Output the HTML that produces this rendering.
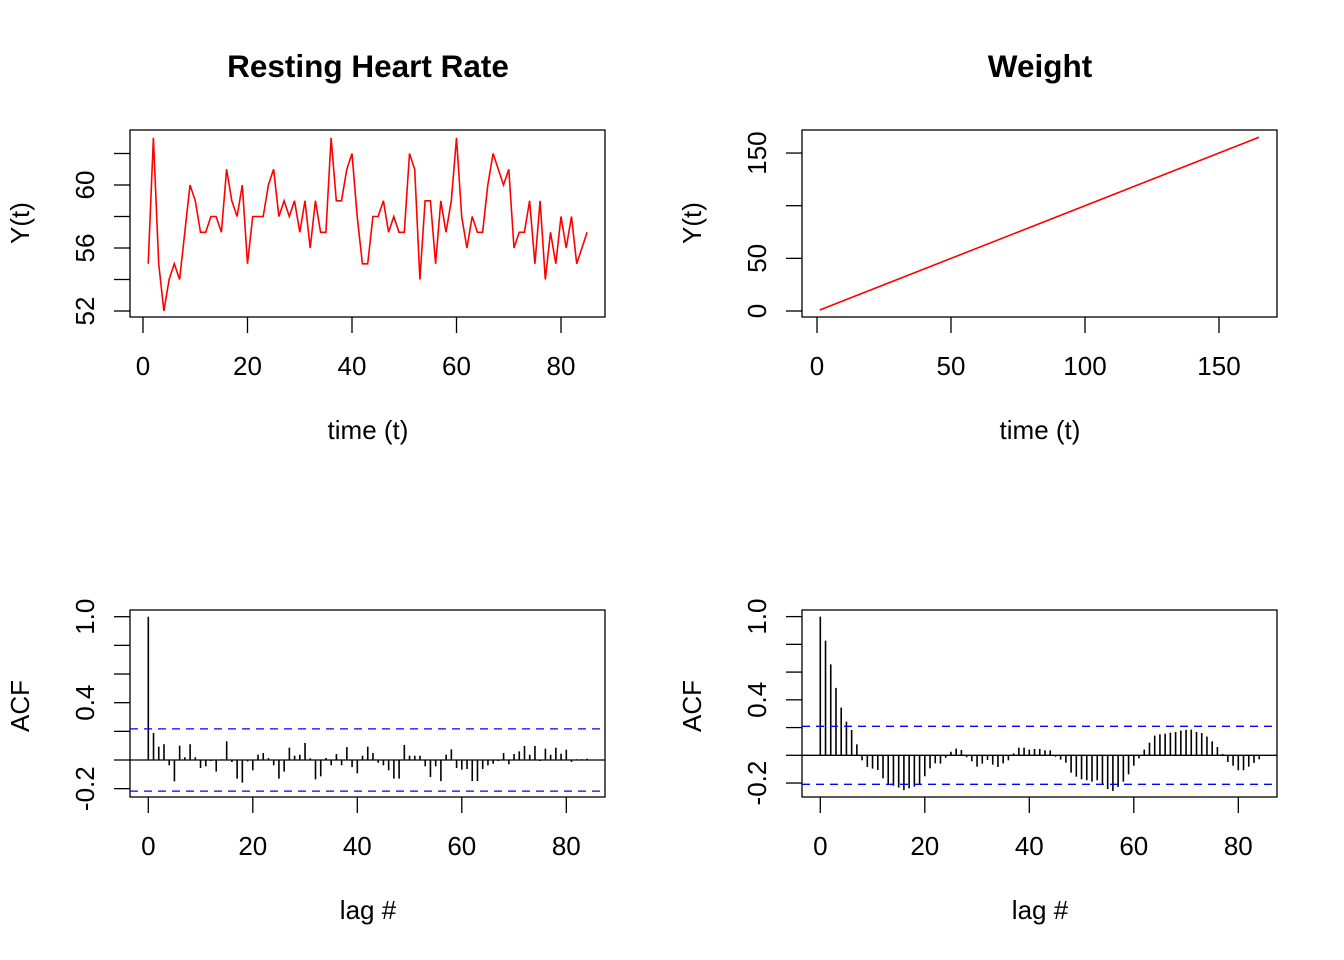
<!DOCTYPE html>
<html><head><meta charset="utf-8"><style>
html,body{margin:0;padding:0;background:#fff;}
svg{display:block;font-family:"Liberation Sans",Arial,sans-serif;}
</style></head><body>
<svg id="s" width="1344" height="960" viewBox="0 0 1344 960" xmlns="http://www.w3.org/2000/svg">
<rect width="1344" height="960" fill="#fff"/>
<g font-size="31.5" font-weight="bold" text-anchor="middle">
<text x="368" y="77">Resting Heart Rate</text>
<text x="1040" y="77">Weight</text>
</g>
<g id="g" fill="none" stroke="#000" stroke-width="1.3"></g>
<g id="t" font-size="26" text-anchor="middle" fill="#000"></g>
</svg>
<script>
const g=document.getElementById('g'),T=document.getElementById('t');
let out='',txt='';
function L(x1,y1,x2,y2,extra){out+=`<line x1="${x1}" y1="${y1}" x2="${x2}" y2="${y2}" ${extra||''}/>`;}
function tx(x,y,s,rot){txt+=rot?`<text transform="translate(${x},${y}) rotate(-90)" dy="0.35em">${s}</text>`:`<text x="${x}" y="${y}">${s}</text>`;}
function box(x1,y1,x2,y2){out+=`<rect x="${x1}" y="${y1}" width="${x2-x1}" height="${y2-y1}"/>`;}
box(130,130,605,317);
const hr=[55,63,55,52,54,55,54,57,60,59,57,57,58,58,57,61,59,58,60,55,58,58,58,60,61,58,59,58,59,57,59,56,59,57,57,63,59,59,61,62,58,55,55,58,58,59,57,58,57,57,62,61,54,59,59,55,59,57,59,63,58,56,58,57,57,60,62,61,60,61,56,57,57,59,55,59,54,57,55,58,56,58,55,56,57];
let p=hr.map((v,i)=>`${(143+5.225*(i+1)).toFixed(1)},${(311-(v-52)*15.75).toFixed(1)}`).join(' ');
out+=`<polyline points="${p}" stroke="#f00" stroke-width="1.6"/>`;
[52,54,56,58,60,62].forEach(v=>{let y=311-(v-52)*15.75;L(114,y,130,y);if(v%4==0)tx(85,y,v,1);});
[0,20,40,60,80].forEach(v=>{let x=143+5.225*v;L(x,317,x,333);tx(x,375,v);});
tx(20,223,'Y(t)',1);tx(368,439,'time (t)');
box(802,130,1277,317);
out+=`<polyline points="819.7,310 1259,137.3" stroke="#f00" stroke-width="1.6"/>`;
[0,50,100,150].forEach(v=>{let y=311-v*1.053;L(786,y,802,y);if(v!=100)tx(757,y,v,1);});
[0,50,100,150].forEach(v=>{let x=817+2.68*v;L(x,317,x,333);tx(x,375,v);});
tx(692,223,'Y(t)',1);tx(1040,439,'time (t)');
function acf(x0,bx1,bx2,y0,sc,vals,ci,labx){
 box(bx1,610,bx2,797);
 L(bx1,y0,bx2,y0);
 vals.forEach((v,i)=>{let x=x0+5.225*i;L(x,y0,x,y0-v*sc,'stroke-width="1.6"');});
 [ci,-ci].forEach(c=>L(bx1,y0-c*sc,bx2,y0-c*sc,'stroke="#00f" stroke-dasharray="8,6"'));
 [-0.2,0,0.2,0.4,0.6,0.8,1.0].forEach(v=>{let y=y0-v*sc;L(bx1-16,y,bx1,y);if(v==-0.2||v==0.4||v==1.0)tx(bx1-45,y,v.toFixed(1),1);});
 [0,20,40,60,80].forEach(v=>{let x=x0+5.225*v;L(x,797,x,813);tx(x,855,v);});
 tx(bx1-110,706,'ACF',1);tx(labx,919,'lag #');
}
const a1=[1,0.188,0.093,0.11,-0.037,-0.149,0.1,0.019,0.11,0.019,-0.056,-0.044,-0.007,-0.081,0.005,0.13,-0.014,-0.13,-0.158,-0.01,-0.072,0.037,0.049,0.014,-0.037,-0.13,-0.081,0.086,0.03,0.037,0.119,0.012,-0.135,-0.114,0.014,-0.037,0.042,-0.037,0.09,-0.049,-0.093,0.03,0.093,0.049,-0.019,-0.037,-0.072,-0.13,-0.13,0.105,0.03,0.03,0.03,-0.044,-0.119,-0.044,-0.147,0.037,0.074,-0.056,-0.067,-0.063,-0.147,-0.147,-0.063,-0.037,-0.026,-0.007,0.049,-0.03,0.042,0.06,0.098,0.037,0.098,-0.007,0.079,0.037,0.086,0.044,0.072,-0.014,0.005,0.005,0.009];
const a2=[1,0.827,0.656,0.486,0.344,0.243,0.183,0.079,-0.036,-0.084,-0.096,-0.106,-0.166,-0.204,-0.219,-0.233,-0.252,-0.238,-0.226,-0.214,-0.151,-0.094,-0.058,-0.06,-0.019,0.026,0.048,0.038,-0.014,-0.043,-0.082,-0.06,-0.034,-0.067,-0.084,-0.058,-0.036,0.014,0.055,0.055,0.041,0.046,0.046,0.036,0.036,-0.01,-0.031,-0.053,-0.125,-0.154,-0.173,-0.18,-0.19,-0.18,-0.204,-0.243,-0.257,-0.228,-0.19,-0.137,-0.075,-0.022,0.041,0.091,0.142,0.151,0.156,0.163,0.168,0.178,0.183,0.185,0.168,0.161,0.135,0.101,0.06,0.01,-0.048,-0.075,-0.108,-0.108,-0.082,-0.055,-0.029];
acf(148.3,130,605,760,143.3,a1,0.217,368);
acf(820.3,802,1277,755.3,138.7,a2,0.209,1040);
g.innerHTML=out;T.innerHTML=txt;
</script>
</body></html>
